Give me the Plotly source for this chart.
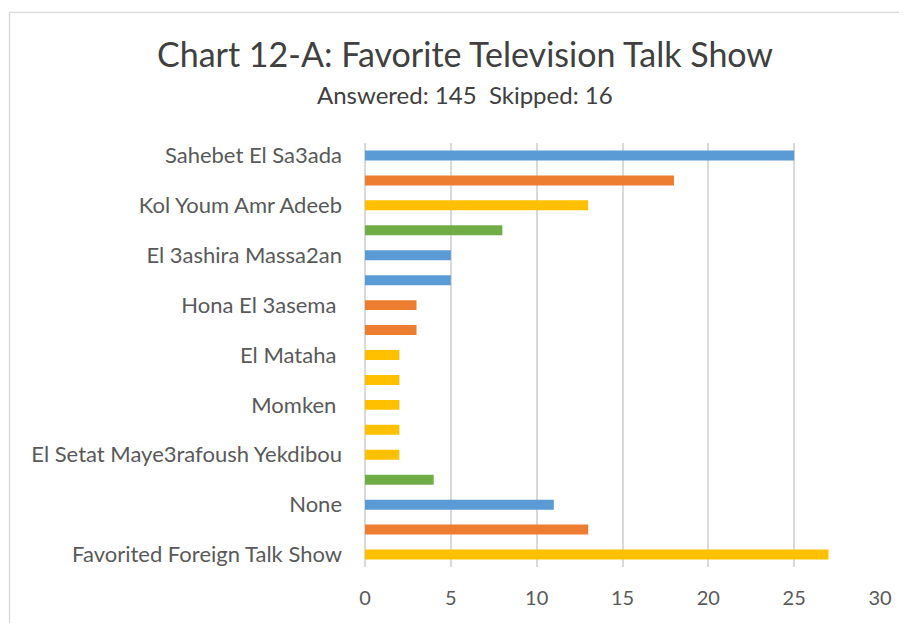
import plotly.graph_objects as go

# Data (top to bottom as displayed). Only every other category label is shown in the reference.
categories = [
    "Sahebet El Sa3ada", "cat 2", "Kol Youm Amr Adeeb", "cat 4",
    "El 3ashira Massa2an", "cat 6", "Hona El 3asema ", "cat 8",
    "El Mataha ", "cat 10", "Momken ", "cat 12",
    "El Setat Maye3rafoush Yekdibou", "cat 14", "None", "cat 16",
    "Favorited Foreign Talk Show",
]
values = [25, 18, 13, 8, 5, 5, 3, 3, 2, 2, 2, 2, 2, 4, 11, 13, 27]
bar_colors = ["#5B9BD5", "#ED7D31", "#FFC000", "#70AD47",
              "#5B9BD5", "#5B9BD5", "#ED7D31", "#ED7D31",
              "#FFC000", "#FFC000", "#FFC000", "#FFC000",
              "#FFC000", "#70AD47", "#5B9BD5", "#ED7D31",
              "#FFC000"]
shown_labels = categories[0::2]
x_ticks = [0, 5, 10, 15, 20, 25, 30]

title_text = "Chart 12-A: Favorite Television Talk Show"
subtitle_text = "Answered: 145  Skipped: 16"

OFF = 8  # page body margin
W, H = 907 - OFF, 623 - OFF
# target plot area in screenshot pixels
PX0, PX1, PY0, PY1 = 365, 880, 142.5, 567.5
L = PX0 - OFF
R = W - (PX1 - OFF)
T = PY0 - OFF
B = H - (PY1 - OFF)
pw, ph = PX1 - PX0, PY1 - PY0

def px_x(px):
    return (px - PX0) / pw

def px_y(py):
    return (PY1 - py) / ph

fig = go.Figure(go.Bar(
    x=values, y=categories, orientation="h",
    marker=dict(color=bar_colors, line=dict(width=0)),
    width=0.4,
    hoverinfo="x+y",
))

font_family = "Lato, 'Open Sans', sans-serif"

fig.update_layout(
    width=W, height=H,
    margin=dict(l=L, r=R, t=T, b=B, pad=0),
    paper_bgcolor="white", plot_bgcolor="white",
    showlegend=False,
    font=dict(family=font_family, color="#595959"),
    xaxis=dict(
        range=[0, 30], tickvals=x_ticks, showgrid=True,
        gridcolor="#D9D9D9", gridwidth=1.5,
        zeroline=True, zerolinecolor="#D9D9D9", zerolinewidth=1.5,
        showline=False, ticks="", ticklabelstandoff=17,
        tickfont=dict(size=20, color="#595959"),
        fixedrange=True,
    ),
    yaxis=dict(
        type="category", categoryorder="array", categoryarray=categories,
        autorange="reversed",
        tickmode="array", tickvals=shown_labels, ticktext=[s for s in shown_labels],
        showgrid=False, zeroline=False, showline=False, ticks="",
        ticklabelstandoff=22,
        tickfont=dict(size=22, color="#595959"),
        fixedrange=True,
    ),
    annotations=[
        dict(text=title_text, x=px_x(465), y=px_y(53), xref="paper", yref="paper",
             xanchor="center", yanchor="middle", showarrow=False,
             font=dict(size=34, color="#404040", family=font_family)),
        dict(text=subtitle_text, x=px_x(465), y=px_y(94), xref="paper", yref="paper",
             xanchor="center", yanchor="middle", showarrow=False,
             font=dict(size=24, color="#404040", family=font_family)),
    ],
    shapes=[
        dict(type="rect", xref="paper", yref="paper",
             x0=px_x(9.5), x1=px_x(915), y0=px_y(630), y1=px_y(11.5),
             line=dict(color="#D9D9D9", width=1.3), fillcolor="rgba(0,0,0,0)",
             layer="below"),
    ],
)

fig.write_html("out.html")
